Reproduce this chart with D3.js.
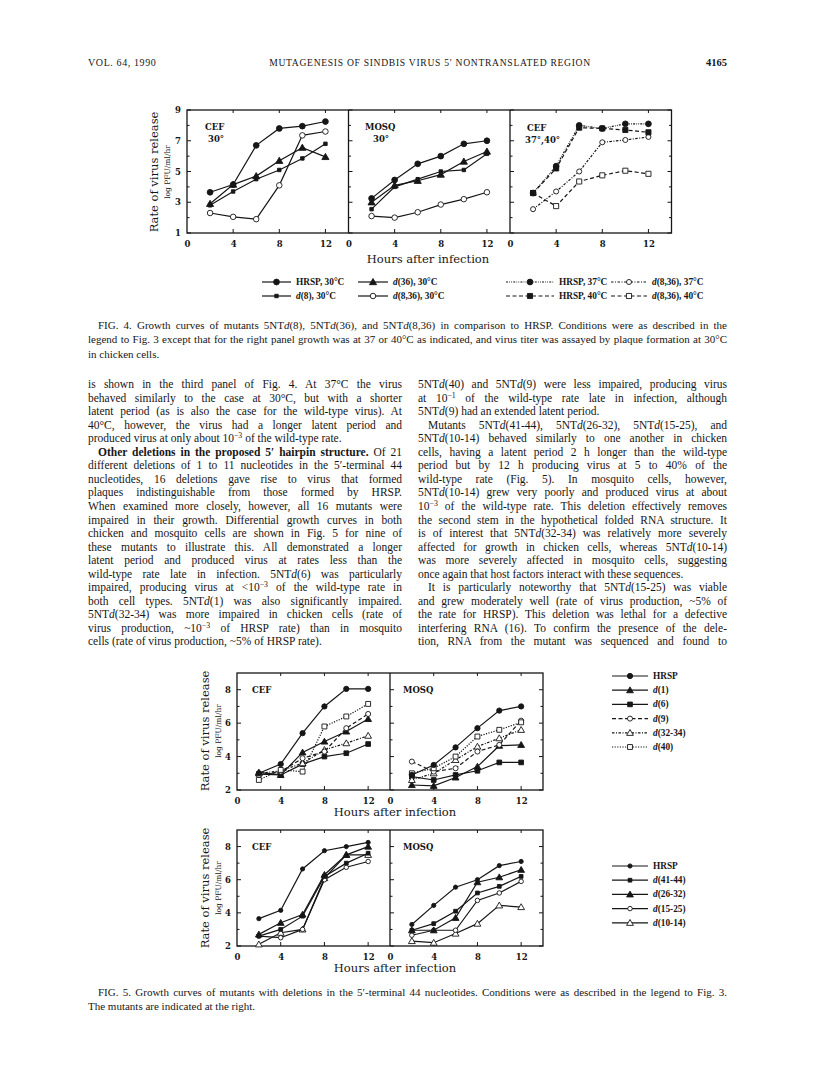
<!DOCTYPE html>
<html>
<head>
<meta charset="utf-8">
<script src="https://cdn.jsdelivr.net/npm/d3@7"></script>
<style>
  body { margin: 0; background: #fff; }
  svg { display: block; }
</style>
</head>
<body>
<div id="page"></div>
<script>
// ---------- data ----------
var hours = [2, 4, 6, 8, 10, 12];

// Fig. 4 (log PFU/ml/hr)
var f4CefHRSP  = [3.65, 4.15, 6.7, 7.8, 7.95, 8.25];
var f4CefD8    = [2.8, 3.7, 4.5, 5.1, 5.85, 6.8];
var f4CefD36   = [2.9, 4.15, 4.7, 5.7, 6.55, 5.95];
var f4CefD836  = [2.3, 2.05, 1.9, 4.1, 7.35, 7.6];
var f4MosqHRSP = [3.25, 4.45, 5.5, 6.0, 6.8, 7.0];
var f4MosqD8   = [2.55, 4.0, 4.5, 5.0, 5.1, 6.15];
var f4MosqD36  = [3.0, 4.1, 4.4, 4.8, 5.65, 6.3];
var f4MosqD836 = [2.1, 2.0, 2.35, 2.85, 3.2, 3.65];
var f4HotHRSP37 = [3.6, 5.35, 8.0, 7.8, 8.1, 8.1];
var f4HotHRSP40 = [3.6, 5.2, 7.85, 7.8, 7.7, 7.55];
var f4HotD836_37 = [2.55, 3.7, 5.0, 6.9, 7.05, 7.25];
var f4HotD836_40 = [3.6, 2.75, 4.35, 4.75, 5.05, 4.85];

// Fig. 5 upper
var f5aCefHRSP = [3.0, 3.55, 5.4, 7.0, 8.05, 8.05];
var f5aCefD1   = [3.05, 2.9, 4.25, 4.9, 5.5, 6.25];
var f5aCefD6   = [2.95, 2.9, 3.55, 4.0, 4.2, 4.75];
var f5aCefD9   = [2.9, 3.1, 3.9, 4.3, 5.7, 6.55];
var f5aCefD3234 = [3.0, 3.15, 3.6, 4.4, 4.8, 5.25];
var f5aCefD40  = [2.6, 3.2, 3.1, 5.8, 6.4, 7.15];
var f5aMosqHRSP = [2.9, 3.5, 4.55, 5.7, 6.75, 7.0];
var f5aMosqD1   = [2.3, 2.25, 2.75, 3.4, 4.65, 4.7];
var f5aMosqD6   = [2.8, 2.6, 2.9, 3.15, 3.65, 3.65];
var f5aMosqD9   = [3.7, 3.1, 3.3, 4.3, 4.7, 6.15];
var f5aMosqD3234 = [2.6, 3.0, 3.8, 4.6, 5.1, 5.6];
var f5aMosqD40  = [3.0, 3.3, 4.0, 5.2, 5.6, 6.05];

// Fig. 5 lower
var f5bCefHRSP  = [3.65, 4.15, 6.65, 7.75, 8.0, 8.25];
var f5bCefD4144 = [2.6, 3.0, 3.8, 6.2, 7.0, 7.6];
var f5bCefD2632 = [2.7, 3.4, 3.9, 6.3, 7.5, 8.0];
var f5bCefD1525 = [2.6, 2.5, 3.0, 6.0, 6.75, 7.1];
var f5bCefD1014 = [2.1, 2.8, 3.0, 6.1, 7.5, 7.5];
var f5bMosqHRSP  = [3.3, 4.45, 5.55, 6.0, 6.85, 7.1];
var f5bMosqD4144 = [2.95, 3.35, 4.1, 5.2, 5.6, 6.2];
var f5bMosqD2632 = [2.95, 2.95, 3.7, 5.85, 6.15, 6.6];
var f5bMosqD1525 = [2.65, 2.95, 2.95, 4.75, 5.2, 5.9];
var f5bMosqD1014 = [2.3, 2.2, 2.75, 3.35, 4.45, 4.35];

var xTickLabels = [0, 4, 8, 12];

// ---------- page ----------
var INK = "#161616";
var SERIF = "'Liberation Serif', 'Times New Roman', serif";
var CHART = "'DejaVu Serif', 'Liberation Serif', serif";

var svg = d3.select("#page").append("svg")
  .attr("width", 816)
  .attr("height", 1076);
svg.append("rect").attr("width", 816).attr("height", 1076).attr("fill", "#fff");

// series styles
var DASH = {
  solid: null,
  dashed: "4,2.5",
  dotdash: "2.5,1.5,1,1.5",
  dotted: "1.2,1.4",
  dashdotdot: "2,1.2,0.8,1.2,0.8,1.2"
};

function marker(g, kind, filled, size, x, y) {
  var type = kind === "circle" ? d3.symbolCircle : kind === "square" ? d3.symbolSquare : d3.symbolTriangle;
  g.append("path")
    .attr("d", d3.symbol().type(type).size(size)())
    .attr("transform", "translate(" + x + "," + (kind === "triangle" ? y + 0.6 : y) + ")")
    .attr("fill", filled ? INK : "#fff")
    .attr("stroke", INK)
    .attr("stroke-width", 0.9);
}

function drawSeries(g, x, y, values, st) {
  var pts = hours.map(function(h, i) { return [h, values[i]]; });
  var line = d3.line().x(function(d) { return x(d[0]); }).y(function(d) { return y(d[1]); });
  g.append("path")
    .attr("d", line(pts))
    .attr("fill", "none")
    .attr("stroke", INK)
    .attr("stroke-width", 1.2)
    .attr("stroke-dasharray", DASH[st.dash]);
  pts.forEach(function(p) { marker(g, st.m, st.fill, st.size, x(p[0]), y(p[1])); });
}

// frame + inward ticks for a row of panels sharing one y scale
function drawFrame(g, xs, y, yMajor, yMinor) {
  var x0 = xs[0].range()[0], x1 = xs[xs.length - 1].range()[1];
  var top = y.range()[1], bot = y.range()[0];
  g.append("rect")
    .attr("x", x0).attr("y", top)
    .attr("width", x1 - x0).attr("height", bot - top)
    .attr("fill", "none").attr("stroke", INK).attr("stroke-width", 1.3);
  xs.forEach(function(x, i) {
    var left = x.range()[0];
    if (i > 0) {
      g.append("line").attr("x1", left).attr("x2", left).attr("y1", top).attr("y2", bot)
        .attr("stroke", INK).attr("stroke-width", 1.3);
    }
    [4, 8, 12].forEach(function(v) {
      g.append("line").attr("x1", x(v)).attr("x2", x(v)).attr("y1", bot).attr("y2", bot - 4)
        .attr("stroke", INK).attr("stroke-width", 1);
      g.append("line").attr("x1", x(v)).attr("x2", x(v)).attr("y1", top).attr("y2", top + 3)
        .attr("stroke", INK).attr("stroke-width", 1);
    });
    yMajor.concat(yMinor).forEach(function(v) {
      var len = yMajor.indexOf(v) >= 0 ? 4 : 2.5;
      g.append("line").attr("x1", left).attr("x2", left + len).attr("y1", y(v)).attr("y2", y(v))
        .attr("stroke", INK).attr("stroke-width", 1);
    });
    // x tick labels
    var ax = g.append("g")
      .attr("transform", "translate(0," + bot + ")")
      .call(d3.axisBottom(x).tickValues(xTickLabels).tickFormat(d3.format("d")).tickSize(0).tickPadding(8));
    ax.select(".domain").remove();
    ax.selectAll("text").attr("font-family", CHART).attr("font-size", 8.5)
      .attr("font-weight", "bold").attr("fill", INK);
  });
  yMajor.concat(yMinor).forEach(function(v) {
    var len = yMajor.indexOf(v) >= 0 ? 4 : 2.5;
    g.append("line").attr("x1", x1).attr("x2", x1 - len).attr("y1", y(v)).attr("y2", y(v))
      .attr("stroke", INK).attr("stroke-width", 1);
  });
  var ay = g.append("g")
    .attr("transform", "translate(" + x0 + ",0)")
    .call(d3.axisLeft(y).tickValues(yMajor).tickFormat(d3.format("d")).tickSize(0).tickPadding(6));
  ay.select(".domain").remove();
  ay.selectAll("text").attr("font-family", CHART).attr("font-size", 8.5)
    .attr("font-weight", "bold").attr("fill", INK);
}

function yTitle(g, cx, cy) {
  g.append("text")
    .attr("transform", "translate(" + cx + "," + cy + ") rotate(-90)")
    .attr("text-anchor", "middle")
    .attr("font-family", CHART).attr("font-size", 11.5).attr("fill", INK)
    .text("Rate of virus release");
  g.append("text")
    .attr("transform", "translate(" + (cx + 12) + "," + cy + ") rotate(-90)")
    .attr("text-anchor", "middle")
    .attr("font-family", CHART).attr("font-size", 7.5).attr("fill", INK)
    .text("log PFU/ml/hr");
}

function label(g, x, y, str, size, anchor, weight) {
  return g.append("text").attr("x", x).attr("y", y)
    .attr("text-anchor", anchor || "start")
    .attr("font-family", CHART).attr("font-size", size)
    .attr("font-weight", weight || "bold").attr("fill", INK)
    .text(str);
}

// legend entry: sample line, marker and label (label may start with "d(" in italic)
function legendEntry(g, x1, x2, y, st, name) {
  g.append("line").attr("x1", x1).attr("x2", x2).attr("y1", y).attr("y2", y)
    .attr("stroke", INK).attr("stroke-width", 1.2).attr("stroke-dasharray", DASH[st.dash]);
  marker(g, st.m, st.fill, st.size, (x1 + x2) / 2, y);
  var t = g.append("text").attr("x", x2 + 5).attr("y", y + 3)
    .attr("font-family", SERIF).attr("font-size", 9.3).attr("font-weight", "bold").attr("fill", INK);
  if (name.indexOf("d(") === 0) {
    t.append("tspan").attr("font-style", "italic").text("d");
    t.append("tspan").text(name.slice(1));
  } else {
    t.text(name);
  }
}

// ---------- running header ----------
var head = svg.append("g").attr("font-family", SERIF).attr("fill", INK);
head.append("text").attr("x", 88).attr("y", 66).attr("font-size", 10).attr("letter-spacing", 0.6)
  .text("VOL. 64, 1990");
head.append("text").attr("x", 430).attr("y", 66).attr("font-size", 9.6).attr("letter-spacing", 0.7)
  .attr("text-anchor", "middle").text("MUTAGENESIS OF SINDBIS VIRUS 5′ NONTRANSLATED REGION");
head.append("text").attr("x", 727).attr("y", 66).attr("font-size", 10.5).attr("font-weight", "bold")
  .attr("text-anchor", "end").text("4165");

// ---------- Fig. 4 ----------
var fig4 = svg.append("g");
var f4y = d3.scaleLinear().domain([1, 9]).range([233, 110]);
var f4x = [0, 1, 2].map(function(i) {
  return d3.scaleLinear().domain([0, 14]).range([187 + i * 161.5, 187 + (i + 1) * 161.5]);
});
drawFrame(fig4, f4x, f4y, [1, 3, 5, 7, 9], [2, 4, 6, 8]);

var s4 = {
  hrsp: { m: "circle", fill: true, size: 26, dash: "solid" },
  d8:   { m: "square", fill: true, size: 12, dash: "solid" },
  d36:  { m: "triangle", fill: true, size: 22, dash: "solid" },
  d836: { m: "circle", fill: false, size: 24, dash: "solid" },
  h37:  { m: "circle", fill: true, size: 26, dash: "dashdotdot" },
  h40:  { m: "square", fill: true, size: 26, dash: "dashed" },
  d37:  { m: "circle", fill: false, size: 20, dash: "dotdash" },
  d40:  { m: "square", fill: false, size: 26, dash: "dashed" }
};
drawSeries(fig4, f4x[0], f4y, f4CefD8, s4.d8);
drawSeries(fig4, f4x[0], f4y, f4CefD36, s4.d36);
drawSeries(fig4, f4x[0], f4y, f4CefD836, s4.d836);
drawSeries(fig4, f4x[0], f4y, f4CefHRSP, s4.hrsp);
drawSeries(fig4, f4x[1], f4y, f4MosqD8, s4.d8);
drawSeries(fig4, f4x[1], f4y, f4MosqD36, s4.d36);
drawSeries(fig4, f4x[1], f4y, f4MosqD836, s4.d836);
drawSeries(fig4, f4x[1], f4y, f4MosqHRSP, s4.hrsp);
drawSeries(fig4, f4x[2], f4y, f4HotD836_37, s4.d37);
drawSeries(fig4, f4x[2], f4y, f4HotD836_40, s4.d40);
drawSeries(fig4, f4x[2], f4y, f4HotHRSP40, s4.h40);
drawSeries(fig4, f4x[2], f4y, f4HotHRSP37, s4.h37);

label(fig4, 205, 130, "CEF", 8.5);
label(fig4, 208, 142, "30°", 8.5);
label(fig4, 365, 130, "MOSQ", 8.5);
label(fig4, 373, 142, "30°", 8.5);
label(fig4, 527, 131, "CEF", 8.5);
label(fig4, 525, 143, "37°,40°", 8.5);
yTitle(fig4, 158, 172);
label(fig4, 428, 263, "Hours after infection", 11.5, "middle", "normal");

legendEntry(fig4, 262, 291, 282, s4.hrsp, "HRSP, 30°C");
legendEntry(fig4, 358, 388, 282, s4.d36, "d(36), 30°C");
legendEntry(fig4, 262, 291, 296, s4.d8, "d(8), 30°C");
legendEntry(fig4, 358, 388, 296, s4.d836, "d(8,36), 30°C");
legendEntry(fig4, 506, 554, 282, s4.h37, "HRSP, 37°C");
legendEntry(fig4, 611, 647, 282, s4.d37, "d(8,36), 37°C");
legendEntry(fig4, 506, 554, 296, s4.h40, "HRSP, 40°C");
legendEntry(fig4, 611, 647, 296, s4.d40, "d(8,36), 40°C");

// ---------- text blocks ----------
// markup: _x_ italic, *x* bold, ^x^ superscript
function richLine(g, x, y, str, width, size) {
  var t = g.append("text").attr("x", x).attr("y", y)
    .attr("font-family", SERIF).attr("font-size", size).attr("fill", INK)
    .attr("xml:space", "preserve");
  var parts = str.split(/(\*[^*]+\*|_[^_]+_|\^[^^]+\^)/).filter(function(p) { return p.length; });
  var raised = false;
  parts.forEach(function(p) {
    var ts = t.append("tspan");
    if (p[0] === "*") { ts.attr("font-weight", "bold").text(p.slice(1, -1)); }
    else if (p[0] === "_") { ts.attr("font-style", "italic").text(p.slice(1, -1)); }
    else if (p[0] === "^") { ts.attr("font-size", size * 0.68).attr("dy", -size * 0.33).text(p.slice(1, -1)); raised = true; return; }
    else { ts.text(p); }
    if (raised) { ts.attr("dy", size * 0.33); raised = false; }
  });
  if (width) {
    var natural = t.node().getComputedTextLength();
    var spaces = (str.match(/ /g) || []).length;
    if (spaces > 0) {
      t.attr("word-spacing", (width - natural) / spaces);
      var after = t.node().getComputedTextLength();
      if (Math.abs(after - width) > 2) {
        t.attr("word-spacing", null).attr("textLength", width).attr("lengthAdjust", "spacing");
      }
    }
  }
}

// lines: [text, flag]  flag: "i" indent, "l" last line of paragraph, "il" both
function textBlock(g, x, y0, lh, width, size, lines) {
  lines.forEach(function(ln, i) {
    var ind = ln[1] && ln[1].indexOf("i") >= 0 ? 10 : 0;
    var last = ln[1] && ln[1].indexOf("l") >= 0;
    richLine(g, x + ind, y0 + i * lh, ln[0], last ? null : width - ind, size);
  });
}

var text = svg.append("g");

textBlock(text, 88, 329, 14.3, 639, 11, [
  ["FIG. 4. Growth curves of mutants 5NT_d_(8), 5NT_d_(36), and 5NT_d_(8,36) in comparison to HRSP. Conditions were as described in the", "i"],
  ["legend to Fig. 3 except that for the right panel growth was at 37 or 40°C as indicated, and virus titer was assayed by plaque formation at 30°C"],
  ["in chicken cells.", "l"]
]);

textBlock(text, 88, 388, 13.55, 314, 11.5, [
  ["is shown in the third panel of Fig. 4. At 37°C the virus"],
  ["behaved similarly to the case at 30°C, but with a shorter"],
  ["latent period (as is also the case for the wild-type virus). At"],
  ["40°C, however, the virus had a longer latent period and"],
  ["produced virus at only about 10^−3^ of the wild-type rate.", "l"],
  ["*Other deletions in the proposed 5′ hairpin structure.* Of 21", "i"],
  ["different deletions of 1 to 11 nucleotides in the 5′-terminal 44"],
  ["nucleotides, 16 deletions gave rise to virus that formed"],
  ["plaques indistinguishable from those formed by HRSP."],
  ["When examined more closely, however, all 16 mutants were"],
  ["impaired in their growth. Differential growth curves in both"],
  ["chicken and mosquito cells are shown in Fig. 5 for nine of"],
  ["these mutants to illustrate this. All demonstrated a longer"],
  ["latent period and produced virus at rates less than the"],
  ["wild-type rate late in infection. 5NT_d_(6) was particularly"],
  ["impaired, producing virus at <10^−3^ of the wild-type rate in"],
  ["both cell types. 5NT_d_(1) was also significantly impaired."],
  ["5NT_d_(32-34) was more impaired in chicken cells (rate of"],
  ["virus production, ~10^−3^ of HRSP rate) than in mosquito"],
  ["cells (rate of virus production, ~5% of HRSP rate).", "l"]
]);

textBlock(text, 418, 388, 13.55, 309, 11.5, [
  ["5NT_d_(40) and 5NT_d_(9) were less impaired, producing virus"],
  ["at 10^−1^ of the wild-type rate late in infection, although"],
  ["5NT_d_(9) had an extended latent period.", "l"],
  ["Mutants 5NT_d_(41-44), 5NT_d_(26-32), 5NT_d_(15-25), and", "i"],
  ["5NT_d_(10-14) behaved similarly to one another in chicken"],
  ["cells, having a latent period 2 h longer than the wild-type"],
  ["period but by 12 h producing virus at 5 to 40% of the"],
  ["wild-type rate (Fig. 5). In mosquito cells, however,"],
  ["5NT_d_(10-14) grew very poorly and produced virus at about"],
  ["10^−3^ of the wild-type rate. This deletion effectively removes"],
  ["the second stem in the hypothetical folded RNA structure. It"],
  ["is of interest that 5NT_d_(32-34) was relatively more severely"],
  ["affected for growth in chicken cells, whereas 5NT_d_(10-14)"],
  ["was more severely affected in mosquito cells, suggesting"],
  ["once again that host factors interact with these sequences.", "l"],
  ["It is particularly noteworthy that 5NT_d_(15-25) was viable", "i"],
  ["and grew moderately well (rate of virus production, ~5% of"],
  ["the rate for HRSP). This deletion was lethal for a defective"],
  ["interfering RNA (16). To confirm the presence of the dele-"],
  ["tion, RNA from the mutant was sequenced and found to"]
]);

// ---------- Fig. 5 ----------
var fig5 = svg.append("g");
var f5x = [0, 1].map(function(i) {
  return d3.scaleLinear().domain([0, 14]).range([237 + i * 153, 237 + (i + 1) * 153]);
});
var f5yA = d3.scaleLinear().domain([2, 9]).range([790, 673]);
var f5yB = d3.scaleLinear().domain([2, 9]).range([946, 830]);
drawFrame(fig5, f5x, f5yA, [2, 4, 6, 8], [3, 5, 7]);
drawFrame(fig5, f5x, f5yB, [2, 4, 6, 8], [3, 5, 7]);

var s5a = {
  hrsp:  { m: "circle", fill: true, size: 22, dash: "solid" },
  d1:    { m: "triangle", fill: true, size: 20, dash: "solid" },
  d6:    { m: "square", fill: true, size: 22, dash: "solid" },
  d9:    { m: "circle", fill: false, size: 20, dash: "dashed" },
  d3234: { m: "triangle", fill: false, size: 20, dash: "dotdash" },
  d40:   { m: "square", fill: false, size: 24, dash: "dotted" }
};
var s5b = {
  hrsp:  { m: "circle", fill: true, size: 14, dash: "solid" },
  d4144: { m: "square", fill: true, size: 14, dash: "solid" },
  d2632: { m: "triangle", fill: true, size: 20, dash: "solid" },
  d1525: { m: "circle", fill: false, size: 16, dash: "solid" },
  d1014: { m: "triangle", fill: false, size: 20, dash: "solid" }
};

drawSeries(fig5, f5x[0], f5yA, f5aCefD6, s5a.d6);
drawSeries(fig5, f5x[0], f5yA, f5aCefD1, s5a.d1);
drawSeries(fig5, f5x[0], f5yA, f5aCefD3234, s5a.d3234);
drawSeries(fig5, f5x[0], f5yA, f5aCefD9, s5a.d9);
drawSeries(fig5, f5x[0], f5yA, f5aCefD40, s5a.d40);
drawSeries(fig5, f5x[0], f5yA, f5aCefHRSP, s5a.hrsp);
drawSeries(fig5, f5x[1], f5yA, f5aMosqD6, s5a.d6);
drawSeries(fig5, f5x[1], f5yA, f5aMosqD1, s5a.d1);
drawSeries(fig5, f5x[1], f5yA, f5aMosqD3234, s5a.d3234);
drawSeries(fig5, f5x[1], f5yA, f5aMosqD9, s5a.d9);
drawSeries(fig5, f5x[1], f5yA, f5aMosqD40, s5a.d40);
drawSeries(fig5, f5x[1], f5yA, f5aMosqHRSP, s5a.hrsp);

drawSeries(fig5, f5x[0], f5yB, f5bCefD1014, s5b.d1014);
drawSeries(fig5, f5x[0], f5yB, f5bCefD1525, s5b.d1525);
drawSeries(fig5, f5x[0], f5yB, f5bCefD4144, s5b.d4144);
drawSeries(fig5, f5x[0], f5yB, f5bCefD2632, s5b.d2632);
drawSeries(fig5, f5x[0], f5yB, f5bCefHRSP, s5b.hrsp);
drawSeries(fig5, f5x[1], f5yB, f5bMosqD1014, s5b.d1014);
drawSeries(fig5, f5x[1], f5yB, f5bMosqD1525, s5b.d1525);
drawSeries(fig5, f5x[1], f5yB, f5bMosqD4144, s5b.d4144);
drawSeries(fig5, f5x[1], f5yB, f5bMosqD2632, s5b.d2632);
drawSeries(fig5, f5x[1], f5yB, f5bMosqHRSP, s5b.hrsp);

label(fig5, 252, 693, "CEF", 8.5);
label(fig5, 403, 693, "MOSQ", 8.5);
label(fig5, 252, 850, "CEF", 8.5);
label(fig5, 403, 850, "MOSQ", 8.5);
yTitle(fig5, 209, 731);
yTitle(fig5, 209, 888);
label(fig5, 395, 816, "Hours after infection", 11.5, "middle", "normal");
label(fig5, 395, 972, "Hours after infection", 11.5, "middle", "normal");

var legA = [
  [s5a.hrsp, "HRSP"], [s5a.d1, "d(1)"], [s5a.d6, "d(6)"],
  [s5a.d9, "d(9)"], [s5a.d3234, "d(32-34)"], [s5a.d40, "d(40)"]
];
legA.forEach(function(e, i) { legendEntry(fig5, 612, 648, 676 + i * 14.2, e[0], e[1]); });
var legB = [
  [s5b.hrsp, "HRSP"], [s5b.d4144, "d(41-44)"], [s5b.d2632, "d(26-32)"],
  [s5b.d1525, "d(15-25)"], [s5b.d1014, "d(10-14)"]
];
legB.forEach(function(e, i) { legendEntry(fig5, 612, 648, 866 + i * 14.2, e[0], e[1]); });

textBlock(text, 88, 996, 14.3, 639, 11, [
  ["FIG. 5. Growth curves of mutants with deletions in the 5′-terminal 44 nucleotides. Conditions were as described in the legend to Fig. 3.", "i"],
  ["The mutants are indicated at the right.", "l"]
]);
</script>
</body>
</html>
